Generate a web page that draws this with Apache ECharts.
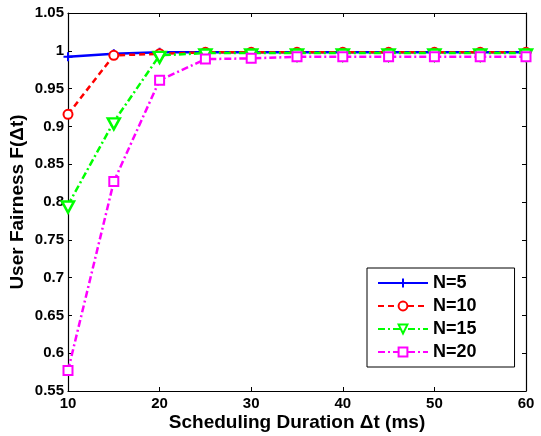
<!DOCTYPE html>
<html>
<head>
<meta charset="utf-8">
<script src="https://cdn.jsdelivr.net/npm/echarts@6/dist/echarts.min.js"></script>
<style>
  html, body { margin: 0; padding: 0; background: #fff; }
  #chart { width: 541px; height: 436px; }
</style>
</head>
<body>
<div id="chart"></div>
<script>
// 数据
var durations = [10, 15, 20, 25, 30, 35, 40, 45, 50, 55, 60];
var fairN5  = [0.992, 0.996, 0.998, 0.998, 0.998, 0.998, 0.998, 0.998, 0.998, 0.998, 0.998];
var fairN10 = [0.916, 0.994, 0.996, 0.998, 0.998, 0.998, 0.998, 0.998, 0.998, 0.998, 0.998];
var fairN15 = [0.796, 0.906, 0.994, 0.997, 0.997, 0.997, 0.997, 0.997, 0.997, 0.997, 0.997];
var fairN20 = [0.577, 0.827, 0.961, 0.989, 0.990, 0.992, 0.992, 0.992, 0.992, 0.992, 0.992];
var seriesNames = ['N=5', 'N=10', 'N=15', 'N=20'];

function pairs(ys) {
    return durations.map(function (x, i) { return [x, ys[i]]; });
}

var font = 'Liberation Sans, Arial, sans-serif';
var plus = 'path://M5,0 L5,10 M0,5 L10,5';
var tri = 'path://M0,0 L10,0 L5,9 Z';

var chart = echarts.init(document.getElementById('chart'));
chart.setOption({
    animation: false,
    grid: { left: 68, right: 15, top: 13, bottom: 45, outerBoundsMode: 'none' },
    legend: {
        orient: 'vertical',
        left: 367,
        top: 268,
        padding: [5, 38, 5, 10],
        itemGap: 3,
        itemWidth: 50,
        itemHeight: 11,
        borderColor: '#000',
        borderWidth: 1,
        backgroundColor: '#fff',
        textStyle: { fontFamily: font, fontWeight: 'bold', fontSize: 18, color: '#000', lineHeight: 20 },
        data: seriesNames
    },
    xAxis: [{
        type: 'value', min: 10, max: 60, interval: 10,
        name: 'Scheduling Duration Δt (ms)',
        nameLocation: 'middle', nameGap: 22, nameMoveOverlap: false,
        nameTextStyle: { fontFamily: font, fontWeight: 'bold', fontSize: 19, color: '#000' },
        axisLine: { lineStyle: { color: '#000', width: 1.2 } },
        axisTick: { inside: true, length: 4, lineStyle: { color: '#000' } },
        axisLabel: { fontFamily: font, fontWeight: 'bold', fontSize: 15, color: '#000', margin: 5 },
        splitLine: { show: false }
    }, {
        type: 'value', min: 10, max: 60, interval: 10, position: 'top',
        axisLine: { lineStyle: { color: '#000', width: 1.2 } },
        axisTick: { inside: true, length: 4, lineStyle: { color: '#000' } },
        axisLabel: { show: false },
        splitLine: { show: false }
    }],
    yAxis: [{
        type: 'value', min: 0.55, max: 1.05, interval: 0.05,
        name: 'User Fairness F(Δt)',
        nameLocation: 'middle', nameGap: 41, nameMoveOverlap: false,
        nameTextStyle: { fontFamily: font, fontWeight: 'bold', fontSize: 19, color: '#000' },
        axisLine: { show: true, lineStyle: { color: '#000', width: 1.2 } },
        axisTick: { inside: true, length: 4, lineStyle: { color: '#000' } },
        axisLabel: {
            fontFamily: font, fontWeight: 'bold', fontSize: 15, color: '#000', margin: 4,
            formatter: function (v) { return String(+v.toFixed(2)); }
        },
        splitLine: { show: false }
    }, {
        type: 'value', min: 0.55, max: 1.05, interval: 0.05, position: 'right',
        axisLine: { show: true, lineStyle: { color: '#000', width: 1.2 } },
        axisTick: { inside: true, length: 4, lineStyle: { color: '#000' } },
        axisLabel: { show: false },
        splitLine: { show: false }
    }],
    series: [{
        name: 'N=5', type: 'line', data: pairs(fairN5),
        symbol: plus, symbolSize: 9,
        itemStyle: { color: '#0000ff', borderColor: '#0000ff', borderWidth: 2 },
        lineStyle: { color: '#0000ff', width: 2.5, type: 'solid' },
        z: 2
    }, {
        name: 'N=10', type: 'line', data: pairs(fairN10),
        symbol: 'emptyCircle', symbolSize: 9,
        itemStyle: { color: '#ff0000', borderColor: '#ff0000', borderWidth: 2.5 },
        lineStyle: { color: '#ff0000', width: 2.5, type: [6, 4] },
        z: 3
    }, {
        name: 'N=15', type: 'line', data: pairs(fairN15),
        symbol: tri, symbolSize: [12, 11], symbolOffset: [0, 2],
        itemStyle: { color: '#fff', borderColor: '#00ff00', borderWidth: 2.5 },
        lineStyle: { color: '#00ff00', width: 2.5, type: [7, 3, 2, 3] },
        z: 4
    }, {
        name: 'N=20', type: 'line', data: pairs(fairN20),
        symbol: 'emptyRect', symbolSize: 9,
        itemStyle: { color: '#ff00ff', borderColor: '#ff00ff', borderWidth: 2.5 },
        lineStyle: { color: '#ff00ff', width: 2.5, type: [7, 3, 2, 3] },
        z: 5
    }]
});
</script>
</body>
</html>
